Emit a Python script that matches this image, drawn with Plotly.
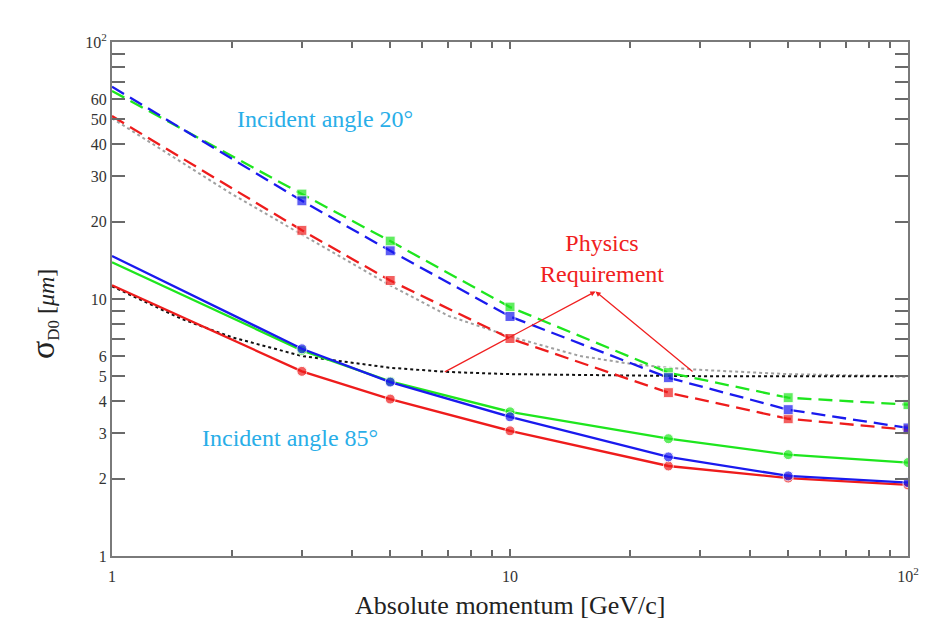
import math
import plotly.graph_objects as go

# ---------------- data ----------------
momentum = [1, 3, 5, 10, 25, 50, 100]

# incident angle 20 deg (dashed, square markers)
green_20 = [64.5, 25.6, 16.8, 9.3, 5.17, 4.13, 3.88]
blue_20 = [67.0, 24.1, 15.4, 8.55, 4.94, 3.71, 3.15]
red_20 = [51.5, 18.5, 11.8, 7.02, 4.32, 3.42, 3.10]

# incident angle 85 deg (solid, circle markers)
green_85 = [13.9, 6.31, 4.78, 3.64, 2.86, 2.48, 2.31]
blue_85 = [14.7, 6.40, 4.75, 3.48, 2.43, 2.05, 1.93]
red_85 = [11.3, 5.23, 4.08, 3.07, 2.24, 2.01, 1.89]

# physics requirements (dotted)
req_p = [1, 1.5, 2, 3, 5, 7, 10, 15, 20, 25, 30, 50, 100]
req_20 = [50.5, 33.8, 25.6, 17.8, 11.3, 8.6, 7.15, 6.0, 5.6, 5.4, 5.3, 5.1, 5.0]
req_85 = [11.2, 8.35, 7.1, 6.0, 5.4, 5.2, 5.1, 5.05, 5.03, 5.02, 5.01, 5.0, 5.0]

x_tick_vals = [1, 10, 100]
x_tick_text = ["1", "10", "10<sup>2</sup>"]
x_minor_vals = [2, 3, 4, 5, 6, 7, 8, 9, 20, 30, 40, 50, 60, 70, 80, 90]
y_tick_vals = [1, 2, 3, 4, 5, 6, 7, 8, 9, 10, 20, 30, 40, 50, 60, 70, 80, 90, 100]
y_tick_text = ["1", "2", "3", "4", "5", "6", "", "", "", "10",
               "20", "30", "40", "50", "60", "", "", "", "10<sup>2</sup>"]

# ---------------- styles ----------------
GREEN = "#1ee61e"
BLUE = "#1a1aee"
RED = "#ee1c1c"
SERIF = "Liberation Serif"

fig = go.Figure()

fig.add_trace(go.Scatter(x=req_p, y=req_20, mode="lines",
                         line=dict(color="#a0a0a0", width=2, dash="dot"),
                         showlegend=False))
fig.add_trace(go.Scatter(x=req_p, y=req_85, mode="lines",
                         line=dict(color="#111111", width=2, dash="dot"),
                         showlegend=False))

msize_sq = [0] + [10] * (len(momentum) - 1)
msize_ci = [0] + [10] * (len(momentum) - 1)

for ys, col in [(red_20, RED), (green_20, GREEN), (blue_20, BLUE)]:
    fig.add_trace(go.Scatter(x=momentum, y=ys, mode="lines+markers",
                             line=dict(color=col, width=2.3, dash="14px,7px"),
                             marker=dict(symbol="square", size=msize_sq, color=col),
                             showlegend=False))

for ys, col in [(red_85, RED), (green_85, GREEN), (blue_85, BLUE)]:
    fig.add_trace(go.Scatter(x=momentum, y=ys, mode="lines+markers",
                             line=dict(color=col, width=2.3),
                             marker=dict(symbol="circle", size=msize_ci, color=col),
                             showlegend=False))

axis_common = dict(
    type="log", range=[0, 2], showgrid=False, zeroline=False,
    showline=True, linecolor="#7a7a7a", linewidth=2, mirror="allticks",
    ticks="inside", tickcolor="#6a6a6a", tickwidth=1.5,
    tickfont=dict(family=SERIF, size=16, color="#333333"),
)

fig.update_xaxes(**axis_common, tickmode="array", tickvals=x_tick_vals,
                 ticktext=x_tick_text, ticklen=7, ticklabelstandoff=5,
                 minor=dict(tickmode="array", tickvals=x_minor_vals, ticks="inside",
                            ticklen=6, tickcolor="#6a6a6a", tickwidth=1.5))
fig.update_yaxes(**axis_common, tickmode="array", tickvals=y_tick_vals,
                 ticktext=y_tick_text, ticklen=13)

annotations = [
    dict(text="Absolute momentum [GeV/c]", xref="paper", yref="paper",
         x=0.5, y=-0.097, xanchor="center", yanchor="middle", showarrow=False,
         font=dict(family=SERIF, size=26, color="#222222")),
    dict(text="<span style='font-size:34px'>σ</span><sub>D0</sub> [<i>μm</i>]",
         xref="paper", yref="paper", x=-0.086, y=0.47, textangle=-90,
         xanchor="center", yanchor="middle", showarrow=False,
         font=dict(family=SERIF, size=24, color="#222222")),
    dict(text="Incident angle 20°", xref="paper", yref="paper",
         x=0.2675, y=0.85, xanchor="center", yanchor="middle", showarrow=False,
         font=dict(family=SERIF, size=24, color="#29aee8")),
    dict(text="Incident angle 85°", xref="paper", yref="paper",
         x=0.224, y=0.2296, xanchor="center", yanchor="middle", showarrow=False,
         font=dict(family=SERIF, size=24, color="#29aee8")),
    dict(text="Physics<br>Requirement", xref="paper", yref="paper",
         x=0.615, y=0.578, xanchor="center", yanchor="middle", showarrow=False,
         font=dict(family=SERIF, size=24, color="#f02020")),
]

apex_x, apex_y = 16.4, 10.7
for tail_x, tail_y in [(6.8, 5.17), (29.0, 5.17)]:
    annotations.append(dict(
        text="", x=math.log10(apex_x), y=math.log10(apex_y), xref="x", yref="y",
        ax=math.log10(tail_x), ay=math.log10(tail_y), axref="x", ayref="y",
        showarrow=True, arrowhead=2, arrowsize=0.8, arrowwidth=1.3,
        arrowcolor="#f02020", standoff=0, startstandoff=0))

fig.update_layout(
    width=931, height=619,
    margin=dict(l=112, r=19, t=42, b=63),
    paper_bgcolor="white", plot_bgcolor="white",
    annotations=annotations,
    showlegend=False,
)

fig.write_html("out.html")
